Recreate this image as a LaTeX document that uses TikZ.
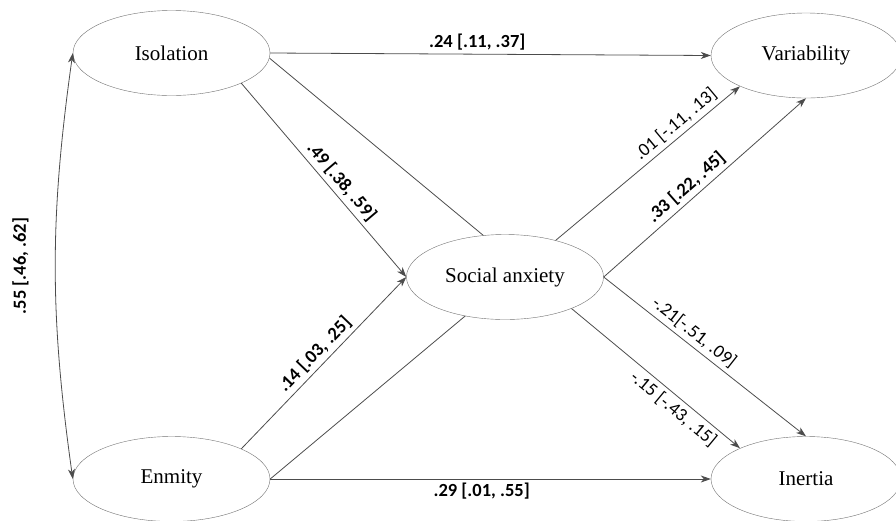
\documentclass[tikz,border=0pt]{standalone}
\usepackage{fontspec}
\setmainfont{Liberation Serif}
\newfontfamily\coeffont{Carlito}
\usetikzlibrary{shapes.geometric, arrows.meta, backgrounds}

\begin{document}
\begin{tikzpicture}[
  x=1pt, y=-1pt,
  >={Stealth[length=10pt, width=7pt, inset=3pt]},
  latent/.style={draw=black!55, ellipse, fill=white, minimum width=197pt, minimum height=85pt, inner sep=0pt, font=\fontsize{21}{25}\selectfont},
  arr/.style={draw=black!70, line width=0.8pt, ->},
  coef/.style={font=\coeffont\fontsize{18.5}{22}\selectfont, inner sep=4pt},
  sigcoef/.style={coef, font=\coeffont\bfseries\fontsize{18.5}{22}\selectfont}
]
  \useasboundingbox (0,0) rectangle (896,520);

  \node[latent] (iso) at (171.5,53) {Isolation};
  \node[latent, minimum width=190pt] (var) at (806,55.5) {Variability};
  \node[latent] (soc) at (505,277) {Social anxiety};
  \node[latent] (enm) at (171.5,479) {Enmity};
  \node[latent, minimum width=190pt] (ine) at (806,479) {Inertia};

  \begin{scope}[on background layer]
    \draw[arr] (iso.-3) -- node[coef, sloped, below, pos=0.875] {-.15 [-.43, .15]} (ine.155);
    \draw[arr] (enm.east) -- node[coef, sloped, above, pos=0.88] {.01 [-.11, .13]} (var.205);
  \end{scope}

  \draw[arr] (iso.east) -- node[sigcoef, above, pos=0.47] {.24 [.11, .37]} (var.west);
  \draw[arr] (iso.south east) -- node[sigcoef, sloped, above, pos=0.55] {.49 [.38, .59]} (soc.west);
  \draw[arr] (enm.north east) -- node[sigcoef, sloped, above, pos=0.5] {.14 [.03, .25]} (soc.west);
  \draw[arr] (enm.east) -- node[sigcoef, below, pos=0.48] {.29 [.01, .55]} (ine.west);
  \draw[arr] (soc.east) -- node[sigcoef, sloped, above, pos=0.45] {.33 [.22, .45]} (var.south);
  \draw[arr] (soc.east) -- node[coef, sloped, above, pos=0.41] {-.21[-.51, .09]} (ine.north);
  \draw[arr, <->] (iso.west) to[bend right=8] node[sigcoef, midway, xshift=-35pt, rotate=90] {.55 [.46, .62]} (enm.west);
\end{tikzpicture}
\end{document}
